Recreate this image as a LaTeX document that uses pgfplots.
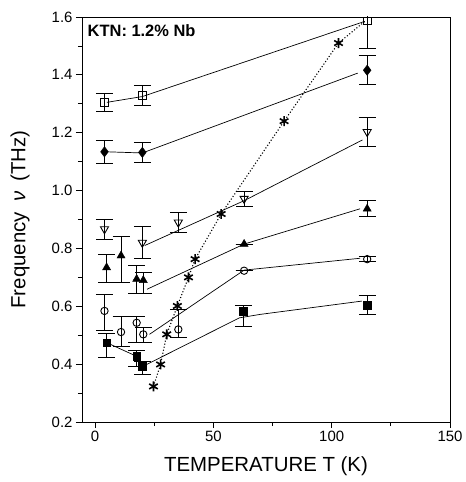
\documentclass[border=0pt]{standalone}
\usepackage{fontspec}
\setmainfont{Liberation Sans}
\usepackage{pgfplots}
\pgfplotsset{compat=1.18}
\begin{document}
\begin{tikzpicture}
\begin{axis}[
  scale only axis, width=368bp, height=405bp,
  xmin=-5.5, xmax=150, ymin=0.2, ymax=1.6,
  axis line style={line width=0.9pt},
  xtick={0,50,100,150}, minor xtick={25,75,125},
  ytick={0.2,0.4,...,1.61}, minor ytick={0.3,0.5,...,1.51},
  yticklabel style={/pgf/number format/.cd, fixed, fixed zerofill, precision=1},
  /pgf/number format/assume math mode=true,
  tick align=outside, tick pos=left,
  major tick length=6bp, minor tick length=4bp,
  every tick/.style={black, line width=0.8pt},
  tick label style={font=\fontsize{15}{17}\selectfont},
  xlabel={TEMPERATURE T (K)}, ylabel={Frequency\enspace\textit{ν}\enspace(THz)},
  every axis x label/.style={at={(rel axis cs:0.5,0)}, yshift=-44bp, anchor=center},
  every axis y label/.style={at={(rel axis cs:0,0.5)}, xshift=-62bp, rotate=90, anchor=center},
  label style={font=\fontsize{20.5}{22}\selectfont},
  clip=true,
  error bars/error bar style={line width=0.8pt, black},
  error bars/error mark options={rotate=90, mark size=8.5bp, line width=0.8pt, black},
]
% guide lines
\addplot[black, line width=0.7pt] coordinates {(5,1.305) (20,1.325) (114,1.585)};
\addplot[black, line width=0.7pt] coordinates {(5,1.134) (20,1.13) (111,1.406)};
\addplot[black, line width=0.7pt] coordinates {(21,0.81) (63,0.965) (113,1.175)};
\addplot[black, line width=0.7pt] coordinates {(22,0.659) (63,0.815) (112,0.937)};
\addplot[black, line width=0.7pt] coordinates {(23,0.503) (63,0.725) (112,0.766)};
\addplot[black, line width=0.7pt] coordinates {(5,0.474) (17.6,0.427) (20.4,0.393) (61,0.56) (69.8,0.572) (112.8,0.618)};
% dotted
\addplot[black, dotted, line width=1.1pt] coordinates {(24.7,0.323) (27.7,0.399) (30.3,0.503) (34.8,0.601) (39.5,0.70) (42.3,0.763) (53.3,0.919) (79.9,1.24) (102.9,1.51) (114,1.585)};
% open squares
\addplot[black, only marks, mark=square, mark size=3.9pt, mark options={fill=white, line width=0.9pt},
  error bars/.cd, y dir=both, y explicit] coordinates {
  (4,1.305) +- (0,0.03) (20,1.328) +- (0,0.035) (115,1.586) +- (0,0.095)};
% diamonds
\addplot[black, only marks, mark=diamond*, mark size=5.2pt,
  error bars/.cd, y dir=both, y explicit] coordinates {
  (4,1.134) +- (0,0.04) (20,1.132) +- (0,0.033) (115,1.416) +- (0,0.05)};
% open down triangles
\addplot[black, only marks, mark=triangle, mark size=4.7pt, mark options={rotate=180, fill=white, line width=0.9pt},
  error bars/.cd, y dir=both, y explicit] coordinates {
  (4,0.867) +- (0,0.035) (20,0.82) +- (0,0.055) (35.2,0.89) +- (0,0.036) (63,0.972) +- (0,0.026) (115,1.203) +- (0,0.05)};
% filled up triangles
\addplot[black, only marks, mark=triangle*, mark size=4.7pt,
  error bars/.cd, y dir=both, y explicit] coordinates {
  (4.9,0.734) += (0,0.046) -= (0,0.052)
  (11,0.775) += (0,0.067) -= (0,0.093)
  (17.6,0.694) += (0,0.048) -= (0,0.05)
  (20.4,0.69) += (0,0.027) -= (0,0.046)
  (63,0.815) +- (0,0.0)
  (115,0.937) +- (0,0.028)};
% open circles
\addplot[black, only marks, mark=o, mark size=3.7pt, mark options={fill=white, line width=0.9pt},
  error bars/.cd, y dir=both, y explicit] coordinates {
  (4,0.584) += (0,0.058) -= (0,0.066)
  (11,0.511) += (0,0.053) -= (0,0.049)
  (17.6,0.543) += (0,0.021) -= (0,0.069)
  (20.4,0.503) += (0,0.023) -= (0,0.029)
  (35.2,0.52) += (0,0.07) -= (0,0.029)
  (63,0.723) +- (0,0.0)
  (115,0.763) +- (0,0.008)};
% filled squares
\addplot[black, only marks, mark=square*, mark size=3.9pt,
  error bars/.cd, y dir=both, y explicit] coordinates {
  (4.9,0.474) += (0,0.032) -= (0,0.052)
  (17.6,0.427) += (0,0.02) -= (0,0.035)
  (20.1,0.393) += (0,0.017) -= (0,0.029)
  (62.7,0.584) += (0,0.019) -= (0,0.052)
  (115,0.603) += (0,0.035) -= (0,0.031)};
% stars
\addplot[black, only marks, mark=asterisk, mark size=5pt, mark options={line width=1.6pt}] coordinates {
  (24.7,0.323) (27.7,0.399) (30.3,0.503) (34.8,0.601) (39.5,0.70) (42.3,0.763) (53.3,0.919) (79.9,1.24) (102.9,1.51)};
\node[anchor=north west, font=\bfseries\fontsize{16.5}{18}\selectfont] at (rel axis cs:0.006,0.99) {KTN: 1.2\% Nb};
\end{axis}
\path ([shift={(-82bp,-60bp)}]current axis.south west) rectangle ([shift={(15bp,17bp)}]current axis.north east);
\end{tikzpicture}
\end{document}
